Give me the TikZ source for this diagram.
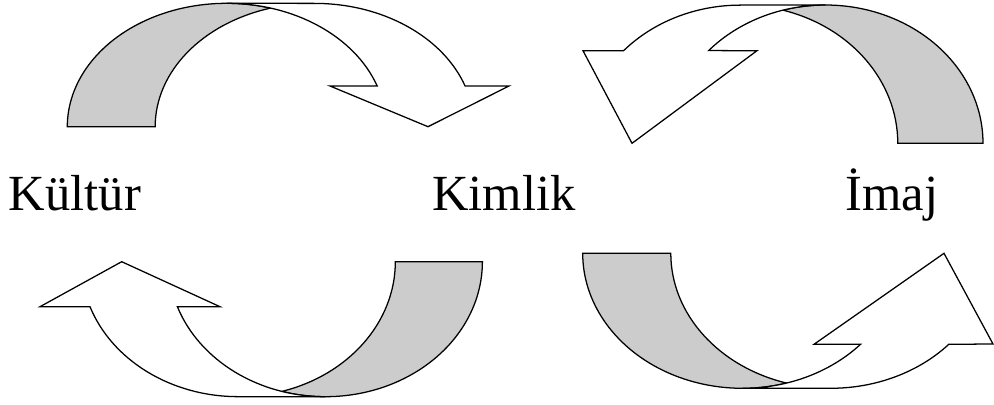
\documentclass[tikz,border=0pt]{standalone}
\usepackage{fontspec}
\setmainfont{Liberation Serif}
\usepackage{tikz}
\definecolor{bandgray}{gray}{0.8}

\begin{document}
\begin{tikzpicture}[x=0.025cm, y=0.025cm,
  band/.style={draw, line width=0.9pt, fill=bandgray},
  front/.style={draw, line width=0.9pt, fill=white},
  word/.style={font=\fontsize{36}{43}\selectfont, inner sep=0pt, anchor=base}]

\useasboundingbox (0,0) rectangle (994,404);

% Ok: Kultur -> Kimlik (ust sol)
\draw[band] (67.3,277.3) arc[start angle=180, end angle=74, x radius=159.4, y radius=123.4]
  arc[start angle=106, end angle=180, x radius=159.4, y radius=123.4] -- cycle;
\draw[front] (226.7,400.7) arc[start angle=90, end angle=19.3, x radius=159.4, y radius=123.4]
  -- (330,318) -- (428,277.3) -- (509,318) -- (465.1,318)
  arc[start angle=19.3, end angle=90, x radius=159.4, y radius=123.4] -- cycle;

% Ok: Imaj -> Kimlik (ust sag)
\draw[band] (983,260.7) arc[start angle=0, end angle=105.7, x radius=157.5, y radius=138.3]
  arc[start angle=74.3, end angle=0, x radius=157.5, y radius=138.3] -- cycle;
\draw[front] (825.5,399) arc[start angle=90, end angle=137.9, x radius=157.5, y radius=138.3]
  -- (757,353.3) -- (632,260.7) -- (583,353.3) -- (623.6,353.3)
  arc[start angle=137.9, end angle=90, x radius=157.5, y radius=138.3] -- cycle;

% Ok: Kimlik -> Kultur (alt sol)
\draw[band] (482.4,142.3) arc[start angle=0, end angle=-106.1, x radius=157, y radius=135]
  arc[start angle=-73.9, end angle=0, x radius=157, y radius=135] -- cycle;
\draw[front] (325.4,7.3) arc[start angle=-90, end angle=-160.5, x radius=157, y radius=135]
  -- (220,97.3) -- (121.7,142.3) -- (40,97.3) -- (90,97.3)
  arc[start angle=-160.5, end angle=-90, x radius=157, y radius=135] -- cycle;

% Ok: Kimlik -> Imaj (alt sag)
\draw[band] (582.7,150.7) arc[start angle=180, end angle=286, x radius=159.8, y radius=135]
  arc[start angle=254, end angle=180, x radius=159.8, y radius=135] -- cycle;
\draw[front] (742.5,15.7) arc[start angle=270, end angle=317.6, x radius=159.8, y radius=135]
  -- (814,59.7) -- (944,150.7) -- (993,60) -- (948.8,59.7)
  arc[start angle=317.6, end angle=270, x radius=159.8, y radius=135] -- cycle;

% Etiketler
\node[word] (kultur) at (75,193.3) {Kültür};
\node[word] (kimlik) at (503.8,193.3) {Kimlik};
\node[word] (imaj) at (891.7,193.3) {İmaj};

\end{tikzpicture}
\end{document}
